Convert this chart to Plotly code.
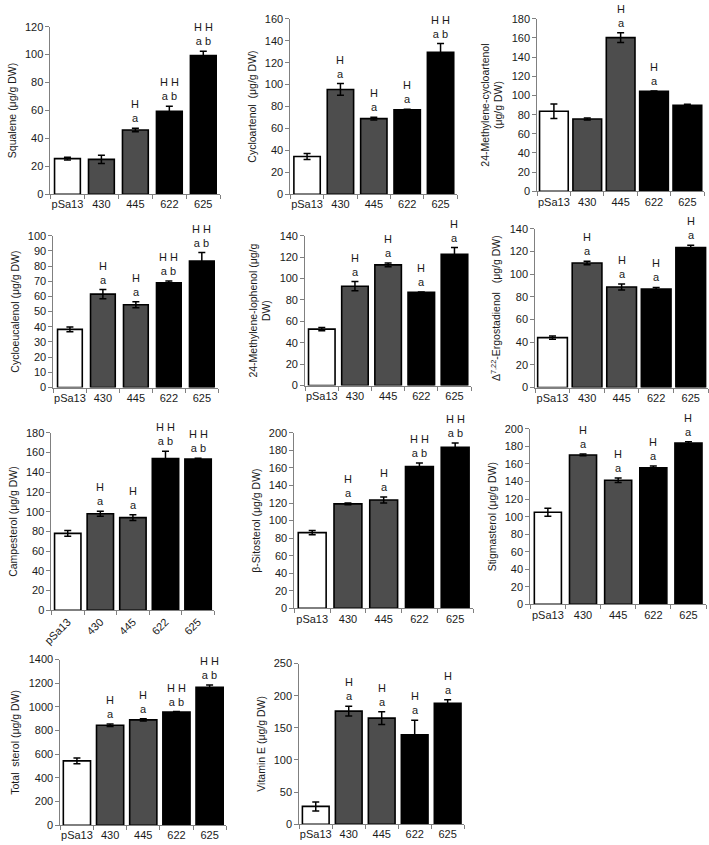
import plotly.graph_objects as go

categories = ["pSa13", "430", "445", "622", "625"]
bar_colors = ["#ffffff", "#4d4d4d", "#4d4d4d", "#000000", "#000000"]

squalene = [25.5, 25, 46, 59.5, 99.4]
squalene_err = [1, 3, 1.3, 3.5, 3]
squalene_sig = ["", "", "H<br>a", "H H<br>a b", "H H<br>a b"]

cycloartenol = [34.5, 95.6, 69, 77, 129.4]
cycloartenol_err = [2.7, 5.4, 1.3, 0.5, 8]
cycloartenol_sig = ["", "H<br>a", "H<br>a", "H<br>a", "H H<br>a b"]

methylene_cycloartenol = [83.6, 75.4, 160.4, 104.3, 89.8]
methylene_cycloartenol_err = [7.5, 1, 5, 0.3, 1]
methylene_cycloartenol_sig = ["", "", "H<br>a", "H<br>a", ""]

cycloeucalenol = [38.3, 61.5, 54.5, 69, 83.3]
cycloeucalenol_err = [1.5, 3, 2, 1.2, 5.6]
cycloeucalenol_sig = ["", "H<br>a", "H<br>a", "H H<br>a b", "H H<br>a b"]

methylene_lophenol = [52.7, 92.8, 112.7, 87, 122.5]
methylene_lophenol_err = [1.5, 4.3, 1.8, 0.5, 6.4]
methylene_lophenol_sig = ["", "H<br>a", "H<br>a", "H<br>a", "H<br>a"]

ergostadienol = [44, 109.8, 88.6, 86.8, 123.4]
ergostadienol_err = [1.5, 1.5, 2.6, 1.5, 2]
ergostadienol_sig = ["", "H<br>a", "H<br>a", "H<br>a", "H<br>a"]

campesterol = [78, 98, 94, 154, 153.3]
campesterol_err = [3, 2.5, 3, 7.3, 1]
campesterol_sig = ["", "H<br>a", "H<br>a", "H H<br>a b", "H H<br>a b"]

sitosterol = [86.3, 119, 123.5, 161.7, 183.5]
sitosterol_err = [2.5, 1, 3.4, 4, 5]
sitosterol_sig = ["", "H<br>a", "H<br>a", "H H<br>a b", "H H<br>a b"]

stigmasterol = [105, 170.3, 141.5, 155.7, 183.9]
stigmasterol_err = [4.5, 1, 2.6, 2, 1.5]
stigmasterol_sig = ["", "H<br>a", "H<br>a", "H<br>a", "H<br>a"]

total_sterol = [544, 845, 890, 956, 1166]
total_sterol_err = [25, 10, 10, 5, 20]
total_sterol_sig = ["", "H<br>a", "H<br>a", "H H<br>a b", "H H<br>a b"]

vitamin_e = [27.7, 176, 165, 139.3, 188]
vitamin_e_err = [7, 7.7, 10, 22.5, 5.6]
vitamin_e_sig = ["", "H<br>a", "H<br>a", "H<br>a", "H<br>a"]

titles = [
    "Squalene (μg/g DW)",
    "Cycloartenol  (μg/g DW)",
    "24-Methylene-cycloartenol<br>(μg/g DW)",
    "Cycloeucalenol (μg/g DW)",
    "24-Methylene-lophenol (μg/g<br>DW)",
    "Δ<sup>7,22</sup>-Ergostadienol   (μg/g DW)",
    "Campesterol (μg/g DW)",
    "β-Sitosterol (μg/g DW)",
    "Stigmasterol (μg/g DW)",
    "Total  sterol (μg/g DW)",
    "Vitamin E (μg/g DW)",
]
y_max = [120, 160, 180, 100, 140, 140, 180, 200, 200, 1400, 250]
y_dtick = [20, 20, 20, 10, 20, 20, 20, 20, 20, 200, 50]

panels = [
    (squalene, squalene_err, squalene_sig),
    (cycloartenol, cycloartenol_err, cycloartenol_sig),
    (methylene_cycloartenol, methylene_cycloartenol_err, methylene_cycloartenol_sig),
    (cycloeucalenol, cycloeucalenol_err, cycloeucalenol_sig),
    (methylene_lophenol, methylene_lophenol_err, methylene_lophenol_sig),
    (ergostadienol, ergostadienol_err, ergostadienol_sig),
    (campesterol, campesterol_err, campesterol_sig),
    (sitosterol, sitosterol_err, sitosterol_sig),
    (stigmasterol, stigmasterol_err, stigmasterol_sig),
    (total_sterol, total_sterol_err, total_sterol_sig),
    (vitamin_e, vitamin_e_err, vitamin_e_sig),
]

# pixel boxes: x0, x1, ytop, ybottom ; bargap
W, H = 709, 845
boxes = [
    (42, 214, 21, 191, 0.24),
    (285, 454, 13, 191, 0.21),
    (535, 704, 13, 188, 0.14),
    (45, 212, 233, 387, 0.25),
    (300, 468, 233, 385, 0.2),
    (533, 708, 226, 387, 0.14),
    (43, 208, 433, 613, 0.19),
    (289, 470, 433, 611, 0.22),
    (528, 706, 429, 607, 0.23),
    (52, 220, 663, 831, 0.18),
    (294, 461, 667, 830, 0.19),
]

FONT = "Liberation Sans, Arial, sans-serif"
AXC = "#808080"
TXT = "#1a1a1a"

fig = go.Figure()
layout = dict(
    width=W, height=H, margin=dict(l=0, r=0, t=0, b=0),
    paper_bgcolor="white", plot_bgcolor="white", showlegend=False,
    font=dict(family=FONT, size=11, color=TXT),
)
annotations = []
idx = list(range(len(categories)))
for i, ((vals, errs, sigs), (x0, x1, yt, yb, gap)) in enumerate(zip(panels, boxes)):
    n = "" if i == 0 else str(i + 1)
    fig.add_trace(go.Bar(
        x=idx, y=vals, xaxis="x" + n, yaxis="y" + n,
        marker=dict(color=bar_colors, line=dict(color="black", width=1.6)),
        error_y=dict(type="data", array=errs, color="black", thickness=1.5, width=3.5),
        width=1 - gap,
    ))
    layout["xaxis" + n] = dict(
        domain=[x0 / W, x1 / W], anchor="y" + n, range=[-0.5, 4.5],
        tickmode="array", tickvals=idx, ticktext=categories,
        showline=True, linecolor=AXC, linewidth=1, ticks="",
        showgrid=False, zeroline=False,
        tickfont=dict(size=11, color=TXT),
        tickangle=-45 if i == 6 else 0,
    )
    layout["xaxis" + n]["minor"] = dict(
        tickmode="array", tickvals=[k - 0.5 for k in range(len(categories) + 1)],
        ticks="outside", ticklen=4, tickcolor=AXC, showgrid=False,
    )
    layout["yaxis" + n] = dict(
        domain=[1 - yb / H, 1 - yt / H], anchor="x" + n, range=[0, y_max[i]],
        dtick=y_dtick[i], showline=True, linecolor=AXC, linewidth=1, ticks="outside",
        ticklen=4, tickcolor=AXC, showgrid=False, zeroline=False,
        tickfont=dict(size=11, color=TXT),
        title=dict(text=titles[i], font=dict(size=10.5, color=TXT), standoff=6),
    )
    for j, (v, e, s) in enumerate(zip(vals, errs, sigs)):
        if s:
            annotations.append(dict(
                x=j, y=v + e, xref="x" + n, yref="y" + n, text=s, showarrow=False,
                yanchor="bottom", yshift=2, font=dict(size=11, color=TXT),
            ))
layout["annotations"] = annotations
fig.update_layout(**layout)
fig.write_html(
    "out.html",
    config={"displayModeBar": False},
    post_script="document.body.style.margin='0';document.body.style.overflow='hidden';",
)
